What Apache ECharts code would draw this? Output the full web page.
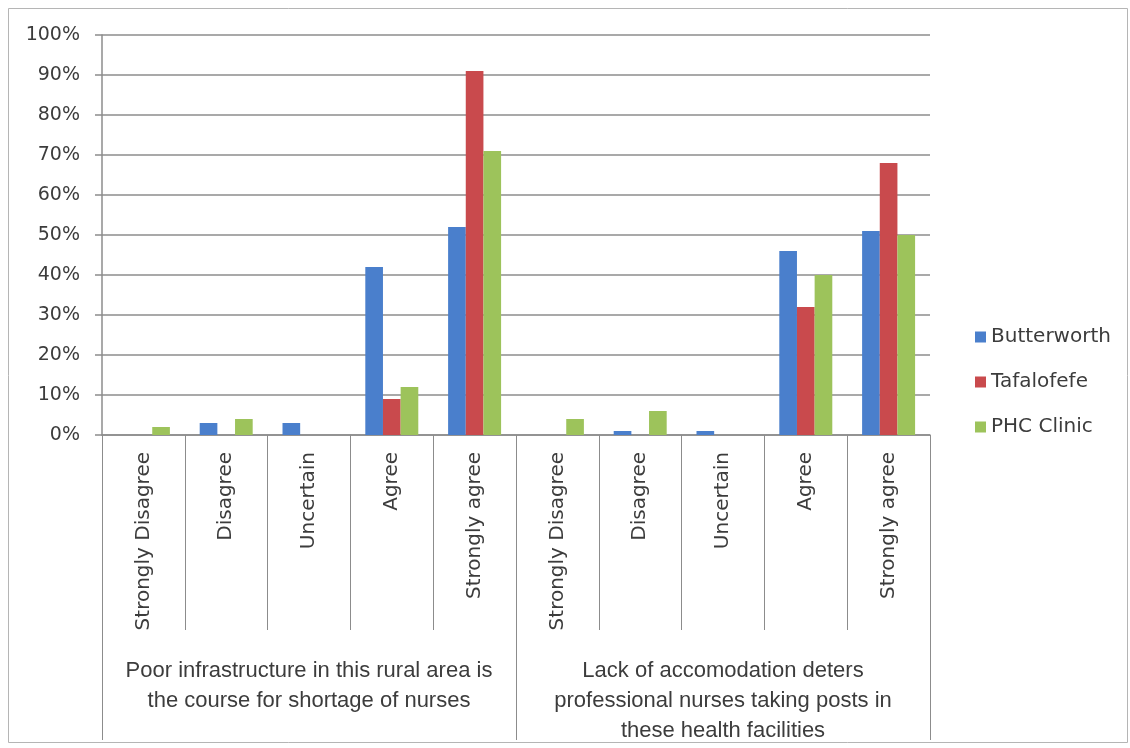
<!DOCTYPE html>
<html>
<head>
<meta charset="utf-8">
<script src="https://cdn.jsdelivr.net/npm/echarts@6/dist/echarts.min.js"></script>
<style>
  html, body { margin: 0; padding: 0; background: #fff; }
  #chart { width: 1130px; height: 748px; }
</style>
</head>
<body>
<div id="chart"></div>
<script>
// Response categories (repeated for each statement)
const responses = ['Strongly Disagree', 'Disagree', 'Uncertain', 'Agree', 'Strongly agree'];
// Statements used as the outer category level
const statements = [
  'Poor infrastructure in this rural area is\nthe course for shortage of nurses',
  'Lack of accomodation deters\nprofessional nurses taking posts in\nthese health facilities'
];
const seriesNames = ['Butterworth', 'Tafalofefe', 'PHC Clinic'];
// Percentages per response, statement 1 then statement 2
const butterworth = [0, 3, 3, 42, 52, 0, 1, 1, 46, 51];
const tafalofefe  = [0, 0, 0, 9, 91, 0, 0, 0, 32, 68];
const phcClinic   = [2, 4, 0, 12, 71, 4, 6, 0, 40, 50];
const yTicks = [0, 10, 20, 30, 40, 50, 60, 70, 80, 90, 100];

const colors = ['#4a7fcc', '#c94a4d', '#9dc35b'];
const gridColor = '#8c8c8c';
const textColor = '#3c3c3c';

const categories = statements.flatMap(() => responses);
const values = [butterworth, tafalofefe, phcClinic];

const chart = echarts.init(document.getElementById('chart'));
chart.setOption({
  animation: false,
  backgroundColor: '#fff',
  color: colors,
  graphic: [{
    type: 'rect',
    shape: { x: 8.5, y: 8.5, width: 1119, height: 734 },
    style: { fill: 'none', stroke: '#b5b5b5', lineWidth: 1 },
    silent: true
  }],
  legend: {
    orient: 'vertical',
    left: 970,
    top: 322,
    itemWidth: 11,
    itemHeight: 11,
    itemGap: 25,
    icon: 'rect',
    textStyle: { fontFamily: 'DejaVu Sans', fontSize: 20, color: textColor, padding: [0, 0, 0, 0] },
    data: seriesNames
  },
  grid: { left: 102, right: 200, top: 35, bottom: 313, containLabel: false },
  xAxis: [{
    type: 'category',
    data: categories,
    position: 'bottom',
    axisLine: { show: true, lineStyle: { color: gridColor, width: 1.5 } },
    axisTick: { show: true, interval: 0, length: 195, alignWithLabel: false,
                lineStyle: { color: gridColor, width: 1 } },
    axisLabel: { interval: 0, rotate: 90, margin: 17, fontFamily: 'DejaVu Sans',
                 fontSize: 20, color: textColor },
    splitLine: { show: false }
  }, {
    type: 'category',
    data: statements,
    position: 'bottom',
    axisLine: { show: false },
    axisTick: { show: true, interval: 0, length: 305, alignWithLabel: false,
                lineStyle: { color: gridColor, width: 1 } },
    axisLabel: { interval: 0, margin: 221, fontFamily: 'Liberation Sans, sans-serif',
                 fontSize: 22, lineHeight: 30, color: textColor, align: 'center' },
    splitLine: { show: false }
  }],
  yAxis: {
    type: 'value',
    min: 0,
    max: 100,
    interval: 10,
    axisLine: { show: true, lineStyle: { color: gridColor, width: 1.5 } },
    axisTick: { show: true, length: 7, lineStyle: { color: gridColor, width: 1.5 } },
    axisLabel: { margin: 22, fontFamily: 'DejaVu Sans', fontSize: 19, color: textColor,
                 formatter: v => (yTicks.includes(v) ? v + '%' : '') },
    splitLine: { show: true, lineStyle: { color: gridColor, width: 1.5 } }
  },
  series: seriesNames.map((name, i) => ({
    name,
    type: 'bar',
    xAxisIndex: 0,
    data: values[i],
    barGap: '0%',
    barCategoryGap: '36%',
    itemStyle: { color: colors[i] }
  }))
});
</script>
</body>
</html>
